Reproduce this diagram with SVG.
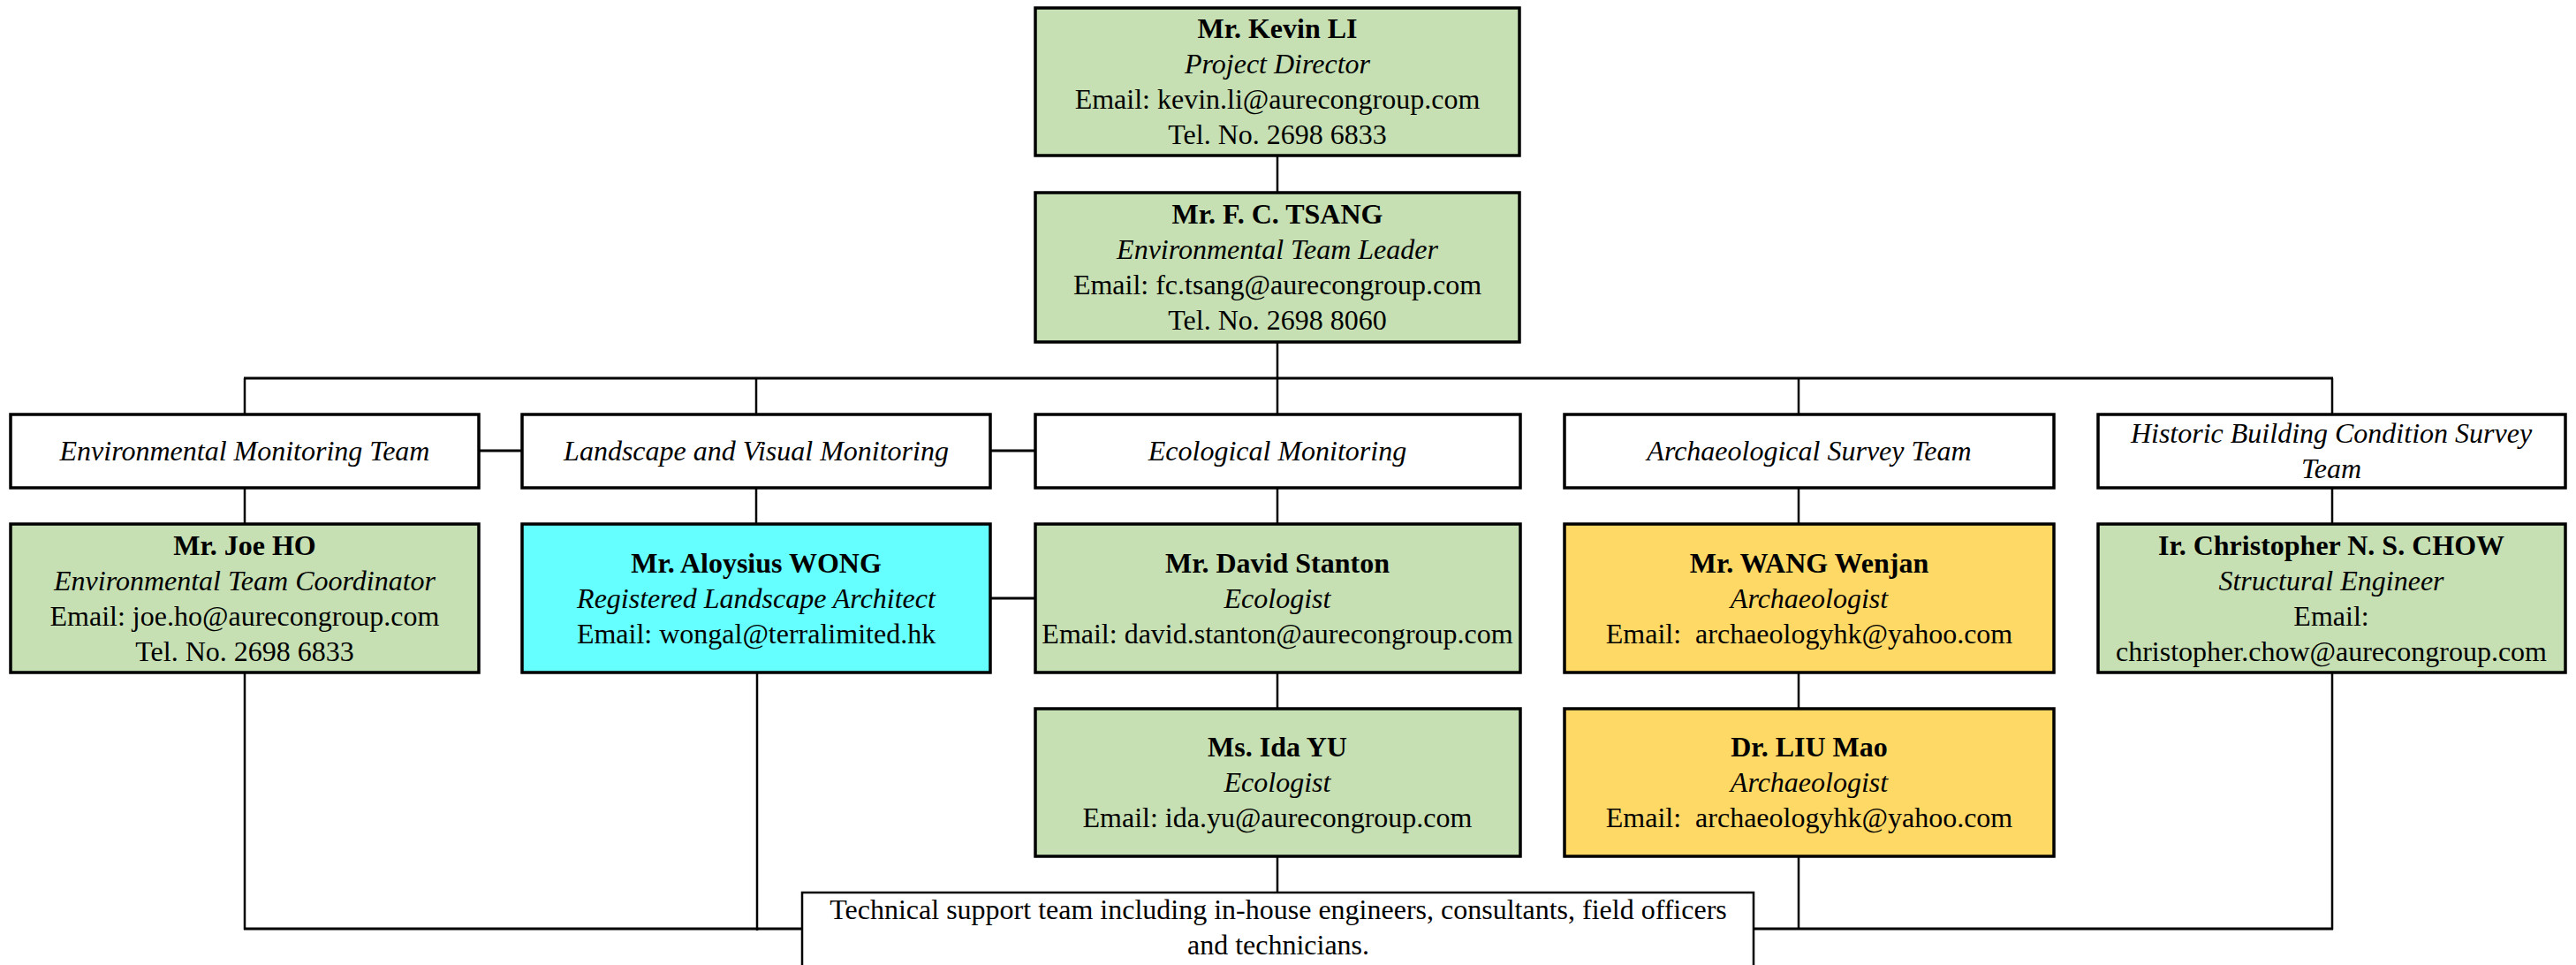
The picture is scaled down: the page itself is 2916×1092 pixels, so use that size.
<svg xmlns="http://www.w3.org/2000/svg" width="2916" height="1092" viewBox="0 0 2916 1092">
<style>
.box{stroke:#000;stroke-width:3.5}
.g{fill:#C6E0B4}.c{fill:#66FFFF}.y{fill:#FFD966}.w{fill:#FFFFFF}
text{font-family:"Liberation Serif","Times New Roman",serif;font-size:32px;fill:#000;text-anchor:middle}
.b{font-weight:bold}.i{font-style:italic}
.ln{stroke:#000;stroke-width:2.5;fill:none}
.lh{stroke:#000;stroke-width:3;fill:none}
</style>
<rect x="0" y="0" width="2916" height="1092" fill="#fff"/>
<g id="connectors">
<line class="ln" x1="1446" y1="176" x2="1446" y2="218"/>
<line class="ln" x1="1446" y1="387" x2="1446" y2="428"/>
<line class="lh" x1="276" y1="428" x2="2641" y2="428"/>
<line class="ln" x1="277" y1="428" x2="277" y2="469"/>
<line class="ln" x1="856" y1="428" x2="856" y2="469"/>
<line class="ln" x1="1446" y1="428" x2="1446" y2="469"/>
<line class="ln" x1="2036" y1="428" x2="2036" y2="469"/>
<line class="ln" x1="2640" y1="428" x2="2640" y2="469"/>
<line class="ln" x1="277" y1="552" x2="277" y2="593"/>
<line class="ln" x1="856" y1="552" x2="856" y2="593"/>
<line class="ln" x1="1446" y1="552" x2="1446" y2="593"/>
<line class="ln" x1="2036" y1="552" x2="2036" y2="593"/>
<line class="ln" x1="2640" y1="552" x2="2640" y2="593"/>
<line class="lh" x1="542" y1="510" x2="591" y2="510"/>
<line class="lh" x1="1121" y1="510" x2="1172" y2="510"/>
<line class="lh" x1="1121" y1="677" x2="1172" y2="677"/>
<line class="ln" x1="1446" y1="761" x2="1446" y2="802"/>
<line class="ln" x1="1446" y1="969" x2="1446" y2="1010"/>
<line class="ln" x1="2036" y1="761" x2="2036" y2="802"/>
<line class="ln" x1="2036" y1="969" x2="2036" y2="1052"/>
<line class="ln" x1="277" y1="761" x2="277" y2="1052"/>
<line class="ln" x1="857" y1="761" x2="857" y2="1053"/>
<line class="ln" x1="2640" y1="761" x2="2640" y2="1052"/>
<line class="lh" x1="276" y1="1051" x2="908" y2="1051"/>
<line class="lh" x1="1985" y1="1051" x2="2641" y2="1051"/>
</g>
<g id="kevin-li">
<rect class="box g" x="1172" y="9" width="548" height="167"/>
<text class="b" x="1446" y="43">Mr. Kevin LI</text>
<text class="i" x="1446" y="83">Project Director</text>
<text x="1446" y="123">Email: kevin.li@aurecongroup.com</text>
<text x="1446" y="163">Tel. No. 2698 6833</text>
</g>
<g id="fc-tsang">
<rect class="box g" x="1172" y="218" width="548" height="169"/>
<text class="b" x="1446" y="253">Mr. F. C. TSANG</text>
<text class="i" x="1446" y="293">Environmental Team Leader</text>
<text x="1446" y="333">Email: fc.tsang@aurecongroup.com</text>
<text x="1446" y="373">Tel. No. 2698 8060</text>
</g>
<g id="team-env">
<rect class="box w" x="12" y="469" width="530" height="83"/>
<text class="i" x="277" y="521">Environmental Monitoring Team</text>
</g>
<g id="team-landscape">
<rect class="box w" x="591" y="469" width="530" height="83"/>
<text class="i" x="856" y="521">Landscape and Visual Monitoring</text>
</g>
<g id="team-eco">
<rect class="box w" x="1172" y="469" width="549" height="83"/>
<text class="i" x="1446" y="521">Ecological Monitoring</text>
</g>
<g id="team-arch">
<rect class="box w" x="1771" y="469" width="554" height="83"/>
<text class="i" x="2048" y="521">Archaeological Survey Team</text>
</g>
<g id="team-historic">
<rect class="box w" x="2375" y="469" width="529" height="83"/>
<text class="i" x="2639" y="501">Historic Building Condition Survey</text>
<text class="i" x="2639" y="541">Team</text>
</g>
<g id="joe-ho">
<rect class="box g" x="12" y="593" width="530" height="168"/>
<text class="b" x="277" y="628">Mr. Joe HO</text>
<text class="i" x="277" y="668">Environmental Team Coordinator</text>
<text x="277" y="708">Email: joe.ho@aurecongroup.com</text>
<text x="277" y="748">Tel. No. 2698 6833</text>
</g>
<g id="aloysius-wong">
<rect class="box c" x="591" y="593" width="530" height="168"/>
<text class="b" x="856" y="648">Mr. Aloysius WONG</text>
<text class="i" x="856" y="688">Registered Landscape Architect</text>
<text x="856" y="728">Email: wongal@terralimited.hk</text>
</g>
<g id="david-stanton">
<rect class="box g" x="1172" y="593" width="549" height="168"/>
<text class="b" x="1446" y="648">Mr. David Stanton</text>
<text class="i" x="1446" y="688">Ecologist</text>
<text x="1446" y="728">Email: david.stanton@aurecongroup.com</text>
</g>
<g id="wang-wenjan">
<rect class="box y" x="1771" y="593" width="554" height="168"/>
<text class="b" x="2048" y="648">Mr. WANG Wenjan</text>
<text class="i" x="2048" y="688">Archaeologist</text>
<text x="2048" y="728" xml:space="preserve">Email:  archaeologyhk@yahoo.com</text>
</g>
<g id="christopher-chow">
<rect class="box g" x="2375" y="593" width="529" height="168"/>
<text class="b" x="2639" y="628">Ir. Christopher N. S. CHOW</text>
<text class="i" x="2639" y="668">Structural Engineer</text>
<text x="2639" y="708">Email:</text>
<text x="2639" y="748">christopher.chow@aurecongroup.com</text>
</g>
<g id="ida-yu">
<rect class="box g" x="1172" y="802" width="549" height="167"/>
<text class="b" x="1446" y="856">Ms. Ida YU</text>
<text class="i" x="1446" y="896">Ecologist</text>
<text x="1446" y="936">Email: ida.yu@aurecongroup.com</text>
</g>
<g id="liu-mao">
<rect class="box y" x="1771" y="802" width="554" height="167"/>
<text class="b" x="2048" y="856">Dr. LIU Mao</text>
<text class="i" x="2048" y="896">Archaeologist</text>
<text x="2048" y="936" xml:space="preserve">Email:  archaeologyhk@yahoo.com</text>
</g>
<g id="technical-support">
<rect class="w" x="908" y="1010" width="1077" height="84" stroke="#000" stroke-width="2.5"/>
<text x="1447" y="1040">Technical support team including in-house engineers, consultants, field officers</text>
<text x="1447" y="1080">and technicians.</text>
</g>
</svg>
